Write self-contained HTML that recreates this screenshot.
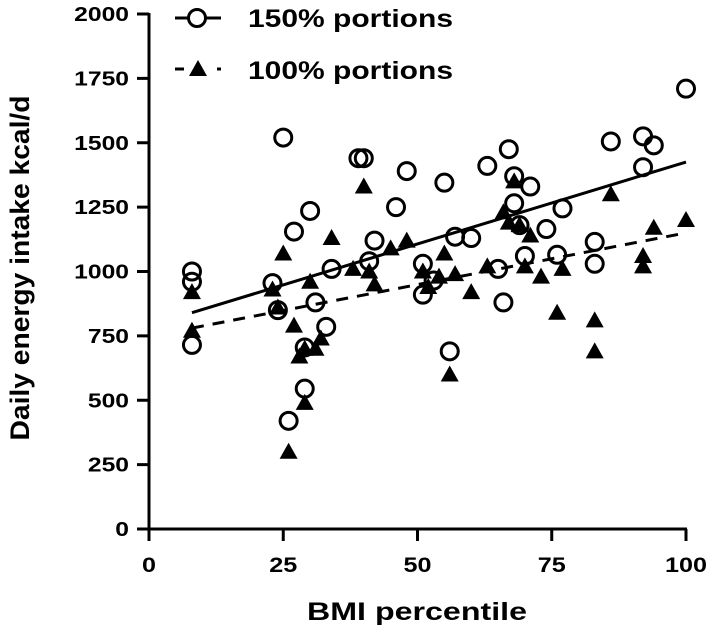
<!DOCTYPE html>
<html><head><meta charset="utf-8"><style>
body{margin:0;background:#fff}
svg{display:block;font-family:"Liberation Sans",Arial,sans-serif}
</style></head><body>
<svg id="c" width="709" height="629"></svg>
<script>
const circX=[8,8,8,23,24,25,26,27,29,29,30,31,33,34,39,40,41,42,46,48,51,51,53,55,56,57,60,63,65,66,67,68,68,69,70,71,74,76,77,83,83,86,92,92,94,100];
const circY=[1000,960,715,955,850,1520,420,1155,705,545,1235,880,785,1010,1440,1440,1040,1120,1250,1390,910,1030,965,1345,690,1135,1130,1410,1010,880,1475,1370,1265,1180,1060,1330,1165,1065,1245,1115,1030,1505,1525,1405,1490,1710];
const triX=[8,8,23,24,25,27,28,29,29,26,30,31,32,34,38,40,41,42,45,48,51,52,54,55,56,57,60,63,66,67,68,69,70,71,73,76,77,83,83,86,92,92,94,100];
const triY=[920,770,930,860,1070,790,670,490,700,300,960,700,740,1130,1010,1330,1000,950,1090,1120,1000,940,980,1070,600,990,920,1020,1230,1190,1350,1180,1020,1140,980,840,1010,810,690,1300,1060,1020,1170,1200];
const fit150=[789,6.36]; // intercept, slope
const fit100=[748,4.02];
const xTicks=[0,25,50,75,100];
const yTicks=[0,250,500,750,1000,1250,1500,1750,2000];

const svg=document.getElementById('c');
const NS='http://www.w3.org/2000/svg';
const X=v=>149+v*5.37, Y=v=>529-v*0.2575;
function mk(t,a,p){const e=document.createElementNS(NS,t);for(const k in a)e.setAttribute(k,a[k]);(p||svg).appendChild(e);return e;}

const ax=mk('g',{});


mk('line',{x1:149,y1:Y(2000)-1,x2:149,y2:530,stroke:'#000','stroke-width':3},ax);
mk('line',{x1:148,y1:529,x2:X(100)+1,y2:529,stroke:'#000','stroke-width':3},ax);
yTicks.forEach(v=>{
  mk('line',{x1:137,y1:Y(v),x2:149,y2:Y(v),stroke:'#000','stroke-width':3},ax);
  const s=String(v);
  const t=mk('text',{x:129,y:Y(v)+7,'text-anchor':'end','font-size':20,'font-weight':'bold',textLength:13.7*s.length,lengthAdjust:'spacingAndGlyphs'},ax);t.textContent=s;
  
  
});
xTicks.forEach(v=>{
  mk('line',{x1:X(v),y1:529,x2:X(v),y2:541,stroke:'#000','stroke-width':3},ax);
  const s=String(v);
  const t=mk('text',{x:X(v),y:572,'text-anchor':'middle','font-size':21,'font-weight':'bold',textLength:14*s.length,lengthAdjust:'spacingAndGlyphs'},ax);t.textContent=s;
  
  
});
let t=mk('text',{x:417,y:620,'text-anchor':'middle','font-size':25,'font-weight':'bold',textLength:220,lengthAdjust:'spacingAndGlyphs'});t.textContent='BMI percentile';


t=mk('text',{x:0,y:0,'text-anchor':'middle','font-size':27,'font-weight':'bold',textLength:345,lengthAdjust:'spacingAndGlyphs',transform:'translate(29,268) rotate(-90)'});t.textContent='Daily energy intake kcal/d';



// fit lines
let l=mk('line',{x1:X(8),y1:Y(fit150[0]+8*fit150[1]),x2:X(100),y2:Y(fit150[0]+100*fit150[1]),stroke:'#000','stroke-width':3});


l=mk('line',{x1:X(8),y1:Y(fit100[0]+8*fit100[1]),x2:X(100),y2:Y(fit100[0]+100*fit100[1]),stroke:'#000','stroke-width':3,'stroke-dasharray':'12,9'});



function tri(cx,cy,p){return mk('polygon',{points:`${cx},${cy-9} ${cx-9},${cy+7} ${cx+9},${cy+7}`,fill:'#000'},p);}
triX.forEach((x,i)=>{const e=tri(X(x),Y(triY[i]));
  
  });
circX.forEach((x,i)=>{const e=mk('circle',{cx:X(x),cy:Y(circY[i]),r:8.5,fill:'none',stroke:'#000','stroke-width':3});
  
  });

// legend
const lg=mk('g',{});


mk('line',{x1:175,y1:18,x2:221,y2:18,stroke:'#000','stroke-width':3},lg);
mk('circle',{cx:197,cy:18,r:8.5,fill:'#fff',stroke:'#000','stroke-width':3},lg);
t=mk('text',{x:248,y:27,'font-size':25,'font-weight':'bold',textLength:205,lengthAdjust:'spacingAndGlyphs'},lg);t.textContent='150% portions';


mk('line',{x1:175,y1:69,x2:184,y2:69,stroke:'#000','stroke-width':3},lg);
mk('line',{x1:217,y1:69,x2:221,y2:69,stroke:'#000','stroke-width':3},lg);
tri(198,69,lg);
t=mk('text',{x:248,y:79,'font-size':25,'font-weight':'bold',textLength:205,lengthAdjust:'spacingAndGlyphs'},lg);t.textContent='100% portions';


</script>
</body></html>
